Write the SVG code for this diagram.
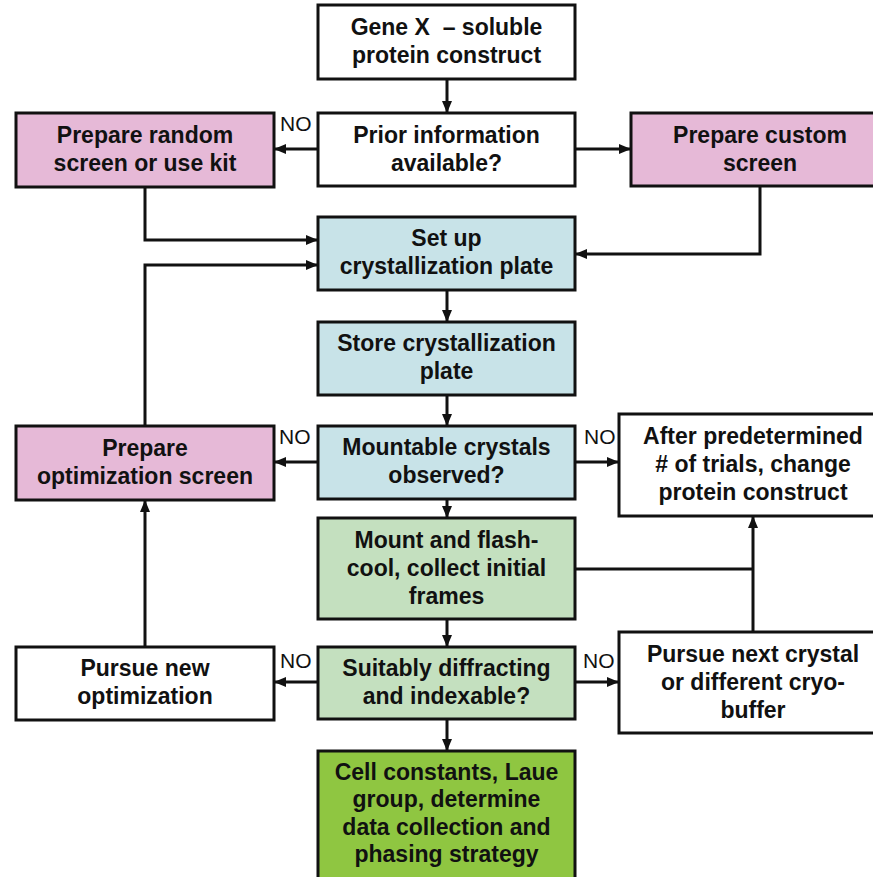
<svg xmlns="http://www.w3.org/2000/svg" width="873" height="877" viewBox="0 0 873 877">
<style>
.box{stroke:#111;stroke-width:3}
.w{fill:#fff}
.pk{fill:#e6b9d7}
.bl{fill:#c8e3e8}
.lg{fill:#c4e0bf}
.gr{fill:#8fc641}
.t{font-family:"Liberation Sans",Arial,sans-serif;font-weight:bold;font-size:23px;fill:#111;text-anchor:middle;white-space:pre}
.no{font-family:"Liberation Sans",Arial,sans-serif;font-size:21px;fill:#111}
.c{fill:none;stroke:#111;stroke-width:3;marker-end:url(#ah)}
.c0{fill:none;stroke:#111;stroke-width:3}
</style>
<defs>
<marker id="ah" markerUnits="userSpaceOnUse" markerWidth="12" markerHeight="10" refX="11" refY="5" orient="auto">
<path d="M0,0 L12,5 L0,10 z" fill="#111"/>
</marker>
</defs>
<rect width="873" height="877" fill="#fff"/>
<g id="connectors">
<path class="c" d="M447 79 V112"/>
<path class="c" d="M318 149 H275"/>
<path class="c" d="M575 149 H630"/>
<path class="c" d="M145 187 V240 H317"/>
<path class="c" d="M760 186 V254 H576"/>
<path class="c" d="M145 426 V265 H317"/>
<path class="c" d="M447 290 V321"/>
<path class="c" d="M447 395 V425"/>
<path class="c" d="M318 462 H275"/>
<path class="c" d="M575 462 H618"/>
<path class="c" d="M447 499 V517"/>
<path class="c0" d="M575 569 H753"/>
<path class="c" d="M753 632 V517"/>
<path class="c" d="M447 619 V646"/>
<path class="c" d="M318 682 H275"/>
<path class="c" d="M575 682 H618"/>
<path class="c" d="M145 647 V501"/>
<path class="c" d="M447 719 V750"/>
<text class="no" x="280" y="131">NO</text>
<text class="no" x="279" y="444">NO</text>
<text class="no" x="584" y="444">NO</text>
<text class="no" x="280" y="668">NO</text>
<text class="no" x="583" y="668">NO</text>
</g>
<g id="gene">
<rect class="box w" x="318" y="5" width="257" height="74"/>
<text class="t" x="446.5" y="35">Gene X  – soluble</text>
<text class="t" x="446.5" y="63">protein construct</text>
</g>
<g id="prior">
<rect class="box w" x="318" y="113" width="257" height="73"/>
<text class="t" x="446.5" y="143">Prior information</text>
<text class="t" x="446.5" y="171">available?</text>
</g>
<g id="random">
<rect class="box pk" x="16" y="113" width="258" height="74"/>
<text class="t" x="145" y="143">Prepare random</text>
<text class="t" x="145" y="171">screen or use kit</text>
</g>
<g id="custom">
<rect class="box pk" x="631" y="113" width="260" height="73"/>
<text class="t" x="760" y="143">Prepare custom</text>
<text class="t" x="760" y="171">screen</text>
</g>
<g id="setup">
<rect class="box bl" x="318" y="217" width="257" height="73"/>
<text class="t" x="446.5" y="246">Set up</text>
<text class="t" x="446.5" y="274">crystallization plate</text>
</g>
<g id="store">
<rect class="box bl" x="318" y="322" width="257" height="73"/>
<text class="t" x="446.5" y="351">Store crystallization</text>
<text class="t" x="446.5" y="379">plate</text>
</g>
<g id="mountable">
<rect class="box bl" x="318" y="426" width="257" height="73"/>
<text class="t" x="446.5" y="455">Mountable crystals</text>
<text class="t" x="446.5" y="483">observed?</text>
</g>
<g id="optscreen">
<rect class="box pk" x="16" y="426" width="258" height="74"/>
<text class="t" x="145" y="456">Prepare</text>
<text class="t" x="145" y="484">optimization screen</text>
</g>
<g id="after">
<rect class="box w" x="619" y="414" width="270" height="102"/>
<text class="t" x="753" y="444">After predetermined</text>
<text class="t" x="753" y="472"># of trials, change</text>
<text class="t" x="753" y="500">protein construct</text>
</g>
<g id="mount">
<rect class="box lg" x="318" y="518" width="257" height="101"/>
<text class="t" x="446.5" y="548">Mount and flash-</text>
<text class="t" x="446.5" y="576">cool, collect initial</text>
<text class="t" x="446.5" y="604">frames</text>
</g>
<g id="suitably">
<rect class="box lg" x="318" y="647" width="257" height="72"/>
<text class="t" x="446.5" y="676">Suitably diffracting</text>
<text class="t" x="446.5" y="704">and indexable?</text>
</g>
<g id="pursuenew">
<rect class="box w" x="16" y="647" width="258" height="73"/>
<text class="t" x="145" y="676">Pursue new</text>
<text class="t" x="145" y="704">optimization</text>
</g>
<g id="pursuenext">
<rect class="box w" x="619" y="632" width="270" height="101"/>
<text class="t" x="753" y="662">Pursue next crystal</text>
<text class="t" x="753" y="690">or different cryo-</text>
<text class="t" x="753" y="718">buffer</text>
</g>
<g id="cell">
<rect class="box gr" x="318" y="751" width="257" height="132"/>
<text class="t" x="446.5" y="780">Cell constants, Laue</text>
<text class="t" x="446.5" y="807">group, determine</text>
<text class="t" x="446.5" y="835">data collection and</text>
<text class="t" x="446.5" y="862">phasing strategy</text>
</g>
</svg>
